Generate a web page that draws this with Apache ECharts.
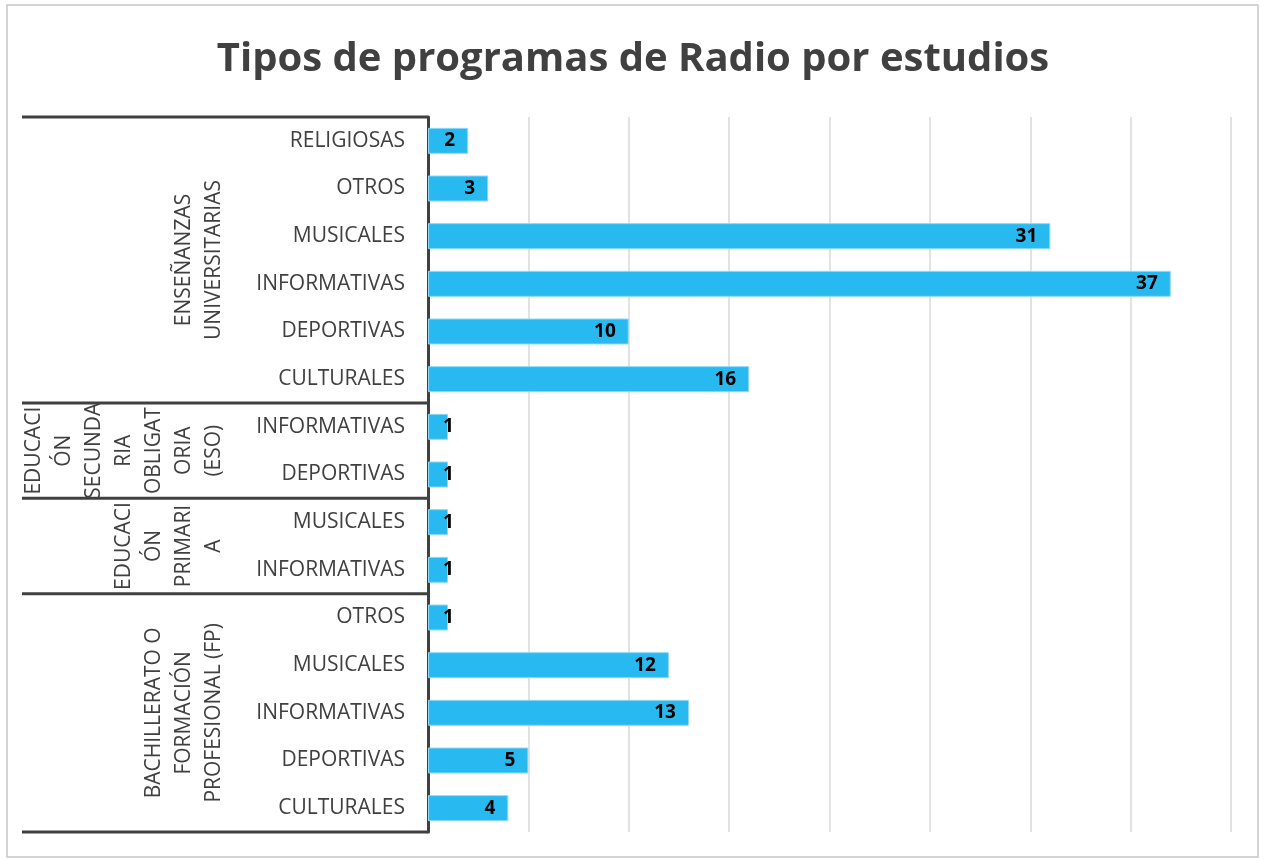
<!DOCTYPE html>
<html>
<head>
<meta charset="utf-8">
<script src="https://cdn.jsdelivr.net/npm/echarts@6/dist/echarts.min.js"></script>
<style>
  html, body { margin: 0; padding: 0; background: #fff; }
  #chart { width: 1266px; height: 860px; }
</style>
</head>
<body>
<div id="chart"></div>
<script>
// categories listed top to bottom, as in the picture
var tipos = [
  'RELIGIOSAS', 'OTROS', 'MUSICALES', 'INFORMATIVAS', 'DEPORTIVAS', 'CULTURALES',
  'INFORMATIVAS', 'DEPORTIVAS',
  'MUSICALES', 'INFORMATIVAS',
  'OTROS', 'MUSICALES', 'INFORMATIVAS', 'DEPORTIVAS', 'CULTURALES'
];
var valores = [2, 3, 31, 37, 10, 16, 1, 1, 1, 1, 1, 12, 13, 5, 4];

// study groups (outer level of the axis) and how many rows each one spans
var grupos = [
  'ENSEÑANZAS\nUNIVERSITARIAS',
  'EDUCACI\nÓN\nSECUNDA\nRIA\nOBLIGAT\nORIA\n(ESO)',
  'EDUCACI\nÓN\nPRIMARI\nA',
  'BACHILLERATO O\nFORMACIÓN\nPROFESIONAL (FP)'
];
var filasGrupo = [6, 2, 2, 5];

var titulo = 'Tipos de programas de Radio por estudios';
var fuente = "'Open Sans', 'Liberation Sans', sans-serif";

var myChart = echarts.init(document.getElementById('chart'));

myChart.setOption({
  animation: false,
  title: {
    text: titulo,
    left: 'center',
    top: 35,
    textStyle: { fontFamily: fuente, fontSize: 40, fontWeight: 'bold', color: '#404040' }
  },
  grid: { left: 428, right: 35, top: 117, bottom: 28, containLabel: false },
  xAxis: {
    type: 'value',
    min: 0,
    max: 40,
    interval: 5,
    axisLabel: { show: false },
    axisLine: { show: false },
    axisTick: { show: false },
    splitLine: { lineStyle: { color: '#d9d9d9', width: 1.5 } }
  },
  yAxis: {
    type: 'category',
    inverse: true,
    data: tipos,
    axisLine: { lineStyle: { color: '#404040', width: 3 } },
    axisTick: { show: false },
    axisLabel: { fontFamily: fuente, fontSize: 21, color: '#404040', margin: 23 }
  },
  series: [{
    type: 'bar',
    barWidth: 26,
    data: valores.map(function (v) {
      var item = { value: v };
      if (v < 2) {
        item.label = { position: 'insideLeft', distance: 15 };
      }
      return item;
    }),
    itemStyle: { color: '#27b9f0', borderColor: '#8fd9f6', borderWidth: 1 },
    label: {
      show: true,
      position: 'insideRight',
      distance: 13,
      fontFamily: fuente,
      fontSize: 19,
      fontWeight: 'bold',
      color: '#000'
    }
  }]
});

// outer axis level: separators and rotated group names, placed from the axis scale
function dibujarGrupos() {
  var c0 = myChart.convertToPixel({ yAxisIndex: 0 }, 0);
  var c1 = myChart.convertToPixel({ yAxisIndex: 0 }, 1);
  var banda = c1 - c0;
  var ejeX = myChart.convertToPixel({ xAxisIndex: 0 }, 0);
  var elems = [];
  var inicio = 0;
  var bordes = [c0 - banda / 2];
  for (var g = 0; g < grupos.length; g++) {
    var fin = inicio + filasGrupo[g];
    var yTop = myChart.convertToPixel({ yAxisIndex: 0 }, inicio) - banda / 2;
    var yBot = myChart.convertToPixel({ yAxisIndex: 0 }, fin - 1) + banda / 2;
    bordes.push(yBot);
    elems.push({
      type: 'text',
      x: 229,
      y: (yTop + yBot) / 2,
      rotation: Math.PI / 2,
      style: {
        text: grupos[g],
        fontFamily: fuente,
        fontSize: 21,
        lineHeight: 30,
        fill: '#404040',
        align: 'center',
        verticalAlign: 'bottom'
      }
    });
    inicio = fin;
  }
  bordes.forEach(function (y) {
    elems.push({
      type: 'line',
      shape: { x1: 22, y1: y, x2: ejeX, y2: y },
      style: { stroke: '#404040', lineWidth: 3 }
    });
  });
  // chart frame
  elems.push({
    type: 'rect',
    shape: { x: 7, y: 5, width: 1251, height: 852 },
    style: { fill: null, stroke: '#c6c6c6', lineWidth: 1.5 },
    silent: true
  });
  myChart.setOption({ graphic: elems });
}
dibujarGrupos();
</script>
</body>
</html>
